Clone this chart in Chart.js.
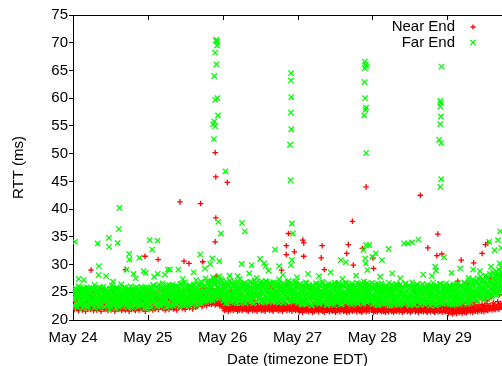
<!DOCTYPE html>
<html>
<head>
<meta charset="utf-8">
<script src="https://cdn.jsdelivr.net/npm/chart.js@4.4.0/dist/chart.umd.min.js"></script>
<style>
  html, body { margin: 0; padding: 0; background: #fff; overflow: hidden; }
  /* the plot is wider than the window: its right end is cut off, as in the original */
  #wrap { width: 540px; height: 366px; }
</style>
</head>
<body>
<div id="wrap"><canvas id="rtt" width="540" height="366"></canvas></div>
<script>
// Day labels on the x axis (hours since May 24 00:00 EDT)
const dayLabels = ['May 24', 'May 25', 'May 26', 'May 27', 'May 28', 'May 29'];
const sampleStep = 0.2; // hours between probes

// Far End RTT (ms), one list per day
const farMay24 = [
  23.8,25.1,22.6,24.4,25.7,23.1,24.9,22.3,25.4,23.6,24.2,25.9,22.9,24.7,23.3,25.2,22.1,24.0,25.6,23.5,
  24.8,22.7,25.3,23.9,24.5,22.4,25.8,23.2,24.1,25.0,22.8,24.6,23.4,25.5,22.2,24.3,25.7,23.0,24.9,23.7,
  25.2,22.5,24.4,25.9,23.3,24.0,22.9,25.4,23.8,24.7,22.3,25.1,23.5,24.2,25.6,22.6,24.8,23.1,25.3,24.0,
  22.4,25.0,23.7,24.5,25.8,22.8,24.1,23.4,25.5,22.1,24.6,23.9,25.2,22.7,24.3,25.7,23.2,24.9,22.5,25.4,
  23.6,24.2,25.9,22.9,24.7,23.0,25.1,22.3,24.4,25.6,23.5,24.0,22.6,25.3,23.8,24.8,22.2,25.0,23.3,24.5,
  25.8,22.8,24.1,23.7,25.5,22.4,24.6,23.1,25.2,24.3,22.7,25.7,23.9,24.9,22.1,25.4,23.4,24.2,25.9,23.6
];
const farMay25 = [
  24.3,22.6,25.8,23.4,24.9,22.2,25.5,23.9,24.1,26.2,22.8,25.0,23.6,24.6,22.4,25.9,23.2,24.8,26.4,23.0,
  24.4,22.5,25.6,23.7,24.0,26.0,22.9,25.2,23.5,24.7,22.3,25.7,24.2,23.1,26.3,24.9,22.7,25.3,23.8,24.5,
  25.9,22.6,24.1,26.1,23.3,25.0,22.8,24.6,25.4,23.6,24.3,22.4,26.5,23.9,25.1,22.9,24.7,25.8,23.4,24.0,
  22.7,26.2,24.4,23.1,25.6,23.8,24.9,22.5,26.0,24.2,23.5,25.3,22.8,24.6,26.4,23.2,25.0,24.1,22.6,25.7,
  23.9,26.3,24.5,23.0,25.4,24.8,22.9,26.6,23.6,25.1,24.3,23.3,26.0,24.7,23.8,25.5,27.0,23.4,24.9,26.2,
  23.7,25.8,24.1,26.8,23.5,25.2,27.3,24.6,23.9,26.5,25.0,24.4,27.1,23.8,26.0,25.6,24.2,27.4,25.3,24.8
];
const farMay26 = [
  25.2,23.4,26.5,24.1,25.8,23.0,26.9,24.6,25.4,23.7,26.2,24.9,23.3,25.6,26.7,24.3,23.8,25.1,26.4,23.5,
  24.8,26.0,23.1,25.5,24.4,26.8,23.9,25.0,24.2,26.3,23.6,25.7,24.7,23.2,26.6,25.3,24.0,26.1,23.8,25.9,
  24.5,23.4,26.4,25.2,24.1,26.9,23.7,25.6,24.8,23.0,26.2,25.0,24.3,26.7,23.5,25.4,24.6,26.0,23.9,25.8,
  24.2,26.5,23.3,25.1,24.9,26.3,23.6,25.5,24.4,27.0,23.8,25.9,24.0,26.1,23.2,25.3,24.7,26.6,23.7,25.0,
  24.5,26.8,23.4,25.7,24.1,26.2,23.9,25.2,24.8,26.4,23.1,25.6,24.3,26.0,23.6,25.4,24.9,26.7,23.5,25.1,
  24.6,26.3,23.8,25.8,24.2,26.9,23.3,25.5,24.7,26.1,23.9,25.0,24.4,26.5,23.7,25.3,24.0,26.6,23.4,25.9
];
const farMay27 = [
  24.6,23.1,25.9,24.0,26.4,23.5,25.3,22.8,24.9,26.1,23.7,25.5,24.3,22.9,26.6,24.8,23.3,25.7,24.1,26.0,
  23.0,25.2,24.5,22.7,26.3,23.9,25.0,24.7,23.4,25.8,24.2,26.5,23.2,25.4,24.0,22.9,26.2,24.6,23.6,25.1,
  24.4,26.7,23.1,25.6,24.8,23.5,25.9,22.8,24.2,26.0,23.8,25.3,24.6,23.0,26.4,24.9,23.4,25.7,24.1,22.7,
  26.1,24.5,23.6,25.2,24.0,26.6,23.3,25.5,24.7,23.9,25.8,22.9,24.3,26.3,23.7,25.0,24.4,23.2,26.5,24.8,
  23.5,25.6,24.1,26.0,23.0,25.4,24.6,22.8,26.2,23.8,25.1,24.3,23.4,25.9,24.9,26.7,23.1,25.3,24.2,23.7,
  26.4,24.5,23.3,25.7,24.0,22.9,26.1,24.7,23.6,25.5,24.4,26.6,23.2,25.0,24.8,23.9,26.3,24.1,25.6,23.5
];
const farMay28 = [
  24.2,22.8,25.6,23.7,26.2,24.5,23.1,25.3,24.0,26.5,22.7,25.0,24.7,23.4,25.9,24.1,23.0,26.3,24.8,23.6,
  25.4,22.9,24.3,26.0,23.8,25.2,24.6,22.6,25.7,23.3,24.9,26.4,23.5,25.1,24.2,22.8,25.8,24.4,23.9,26.1,
  23.2,25.5,24.0,22.7,26.3,24.6,23.6,25.0,24.8,23.1,25.9,24.3,22.9,26.5,23.7,25.3,24.1,23.4,25.6,24.7,
  22.6,26.0,24.5,23.0,25.2,23.9,26.2,24.2,22.8,25.7,24.0,23.5,26.4,24.8,23.3,25.4,24.4,22.7,25.8,23.8,
  25.1,24.6,23.2,26.1,24.3,22.9,25.5,23.6,24.9,26.3,23.1,25.0,24.1,22.6,25.9,24.7,23.4,26.0,24.5,23.0,
  25.3,23.9,26.2,24.2,22.8,25.6,24.0,23.7,26.5,24.8,23.3,25.2,24.4,22.9,25.7,23.5,26.1,24.6,23.1,25.4
];
const farMay29 = [
  24.0,22.9,25.7,23.6,26.3,24.4,23.1,25.2,24.8,22.7,26.0,23.9,25.5,24.2,23.4,26.5,24.7,23.0,25.8,24.1,
  22.8,26.2,23.7,25.0,24.5,23.3,25.9,24.3,26.6,23.5,25.3,24.0,22.9,26.1,24.8,23.8,25.6,24.6,23.2,26.4,
  24.2,25.1,23.6,26.8,24.9,23.9,25.7,24.4,27.0,23.4,25.4,24.7,26.3,23.8,25.9,24.1,27.2,24.6,25.2,23.7,
  26.5,24.9,25.6,24.3,27.4,23.9,26.0,25.1,24.5,27.1,25.8,24.2,26.7,25.3,27.6,24.7,26.2,25.0,27.9,24.4,
  26.9,25.5,28.2,24.8,26.4,27.7,25.2,28.5,26.1,27.3
];
// Far End, second reading of each interval (taken half a step later)
const farMay24b = [
  24.1,23.6,24.9,22.4,25.3,24.7,23.0,23.9,26.1,24.4,22.8,25.0,23.5,24.2,25.6,23.1,24.8,22.6,25.2,24.0,
  23.3,24.6,25.9,22.2,24.3,23.8,25.4,24.9,23.2,22.9,25.7,24.5,23.7,24.1,26.3,23.4,24.8,22.7,25.1,23.9,
  24.4,25.8,23.0,24.6,22.5,25.3,24.2,23.6,26.0,24.7,23.3,24.0,25.5,22.8,24.9,23.5,25.0,24.3,21.9,25.7,
  23.8,24.5,26.2,23.1,24.7,22.6,25.2,24.1,23.4,25.9,24.8,23.0,24.4,22.3,25.6,23.7,24.2,26.4,23.9,24.6,
  22.9,25.1,24.0,23.5,25.8,24.3,22.7,24.9,23.2,25.4,24.6,23.8,26.1,22.4,24.1,25.0,23.6,24.7,22.8,25.5,
  24.4,23.1,25.9,24.0,22.6,24.8,25.3,23.4,24.5,26.0,23.7,22.9,25.1,24.2,23.3,25.7,24.6,22.5,24.9,23.8
];
const farMay25b = [
  24.6,23.2,25.4,24.0,22.7,25.9,24.3,23.7,26.3,24.8,22.9,25.1,23.5,24.4,26.0,23.0,24.9,25.6,22.6,24.1,
  25.2,23.8,24.5,26.6,23.3,24.7,22.8,25.5,24.0,23.6,26.2,24.9,23.1,25.0,24.3,22.5,25.8,24.6,23.9,26.4,
  23.4,24.8,25.3,22.9,24.2,26.1,23.7,25.0,24.5,23.2,25.7,24.1,22.7,26.5,23.9,24.6,25.2,23.4,24.9,26.8,
  23.6,25.1,24.4,22.8,25.9,24.0,23.5,26.3,24.7,25.4,23.1,24.2,26.0,24.8,23.7,25.6,24.3,27.2,23.9,25.0,
  24.6,26.4,23.3,25.3,24.9,26.9,23.8,25.7,24.1,26.2,25.0,23.6,27.5,24.5,25.8,24.2,26.6,23.9,25.4,27.0,
  24.7,26.1,25.2,23.8,27.7,24.9,26.5,25.5,24.3,27.3,25.9,24.6,26.8,25.1,27.9,24.8,26.3,25.6,27.1,24.4
];
const farMay26b = [
  25.0,24.2,26.1,23.6,25.7,24.8,23.2,26.6,24.5,25.3,23.9,27.1,24.1,25.8,24.6,23.4,26.3,25.1,24.0,26.9,
  23.7,25.5,24.9,23.1,26.0,24.4,25.6,27.4,23.8,25.2,24.7,26.4,23.5,25.9,24.3,26.7,23.0,25.4,24.8,26.2,
  24.1,23.6,25.7,26.8,24.5,23.3,25.0,26.5,24.2,25.8,23.9,27.2,24.6,25.3,23.4,26.1,24.9,25.6,23.8,26.7,
  24.3,25.1,27.0,23.6,25.9,24.7,26.3,23.2,25.5,24.0,26.9,24.8,23.7,25.2,26.6,24.4,23.5,25.7,24.1,26.0,
  25.4,23.9,26.8,24.6,25.0,23.3,26.4,24.9,25.6,23.8,27.3,24.2,25.3,26.2,23.6,24.7,25.8,23.1,26.5,24.5,
  25.1,23.9,26.1,24.3,25.7,27.0,23.4,25.2,24.8,26.7,23.7,25.5,24.0,26.3,25.0,23.5,26.9,24.6,25.9,24.2
];
const farMay27b = [
  24.9,23.4,25.6,24.2,26.5,23.0,25.1,24.7,22.8,26.2,24.0,25.4,23.6,26.8,24.5,23.2,25.9,24.1,26.3,23.7,
  25.0,24.6,22.6,25.7,23.9,26.0,24.3,25.3,23.1,26.6,24.8,23.5,25.5,24.0,22.9,26.4,25.2,23.8,24.6,26.9,
  23.3,25.0,24.4,26.1,23.6,25.8,24.9,22.7,25.3,26.5,24.2,23.4,25.6,24.7,26.2,23.0,25.1,24.5,23.8,26.7,
  24.1,25.4,23.2,26.0,24.8,25.7,23.6,24.3,26.4,22.8,25.2,24.6,23.9,26.1,25.0,24.2,23.5,26.8,24.9,25.5,
  23.3,24.7,26.3,24.0,25.9,23.7,25.1,26.6,24.4,23.1,25.6,24.8,26.0,23.8,25.3,24.2,22.9,26.5,24.6,25.0,
  23.4,26.2,24.9,25.7,23.6,24.3,26.9,25.2,23.9,24.7,26.0,23.2,25.5,24.1,26.4,24.8,23.5,25.8,24.4,26.7
];
const farMay28b = [
  24.5,23.0,25.8,24.2,26.4,23.6,25.1,24.8,22.7,26.0,23.9,25.5,24.3,23.3,26.6,24.7,25.2,22.9,24.0,25.9,
  23.5,26.2,24.6,23.1,25.4,24.1,26.7,23.8,25.0,24.4,22.6,25.7,24.9,23.4,26.1,24.2,25.3,23.7,26.5,24.5,
  22.8,25.6,24.0,26.3,23.2,25.0,24.7,23.6,26.0,24.3,25.8,22.9,24.8,26.6,23.5,25.2,24.1,23.9,26.2,24.6,
  25.4,23.0,24.4,26.8,23.7,25.5,24.9,22.7,25.9,24.2,23.4,26.4,24.8,25.1,23.6,24.0,26.1,25.3,23.2,24.5,
  26.5,23.8,25.0,24.3,22.8,25.7,24.7,26.3,23.3,25.2,24.0,23.7,26.0,24.6,25.6,23.1,24.9,26.7,23.9,25.4,
  24.2,22.6,25.9,24.5,26.2,23.5,25.1,24.8,23.0,26.5,24.3,25.7,23.8,24.6,26.0,23.4,25.3,24.1,26.6,24.9
];
const farMay29b = [
  24.3,23.5,25.4,24.8,22.8,26.1,24.0,25.6,23.2,24.7,26.4,23.8,25.1,24.5,22.9,25.9,24.2,26.6,23.6,25.3,
  24.9,23.3,26.2,24.6,25.7,23.9,24.4,26.8,23.4,25.5,24.8,26.0,23.7,25.2,27.0,24.3,25.8,23.8,26.5,24.9,
  25.4,27.3,24.1,26.1,25.0,23.9,26.7,24.6,25.6,27.5,24.4,26.3,25.2,27.8,24.8,26.0,25.5,27.2,24.6,26.9,
  25.8,28.0,24.9,26.6,25.3,27.6,26.1,24.7,28.3,25.7,27.0,26.4,25.1,28.6,26.8,25.4,27.9,26.2,28.8,25.9,
  27.4,26.6,29.1,25.6,28.2,27.1,26.3,29.4,27.7,28.5
];
// Far End readings off the main band: [hour, ms]
const farSpikes = [
  [0.6,34.1],[1.8,27.4],[7.9,33.8],[8.3,29.7],[8.2,28.1],[10.6,27.9],[11.5,34.8],[11.6,33.2],
  [14.9,40.2],[14.7,36.4],[14.3,33.9],[18.0,31.9],[18.1,30.9],[17.2,29.1],[19.4,28.3],[21.3,31.2],
  [22.6,28.8],[23.3,28.5],[24.6,34.4],[25.4,32.7],[27.1,34.3],[27.2,28.3],[30.4,29.1],[31.1,29.1],
  [33.8,29.1],[40.8,31.8],[44.0,30.1],[44.7,31.1],[46.9,30.6],
  [46.1,70.5],[46.3,70.2],[45.8,70.4],[46.2,69.5],[45.6,68.2],[46.0,66.1],[45.3,64.0],[45.6,59.7],
  [46.3,60.0],[46.5,56.9],[45.3,55.8],[45.0,55.3],[45.6,54.9],[45.2,52.6],
  [46.6,37.7],[47.4,35.6],[48.9,46.8],[54.2,37.5],[55.1,36.0],[57.3,29.9],[60.0,31.0],[61.3,30.2],
  [61.8,29.7],[54.1,30.1],[64.8,32.7],[66.1,29.7],
  [69.9,64.5],[69.9,63.2],[70.0,60.2],[69.9,57.4],[70.0,54.4],[69.6,51.6],[69.8,45.2],[70.2,37.4],
  [70.5,35.6],[70.2,30.8],[69.9,29.9],[85.9,30.8],[87.5,30.4],
  [93.6,66.6],[93.9,66.1],[93.6,65.4],[94.0,65.7],[93.5,62.9],[93.7,60.0],[94.0,58.3],[93.8,57.9],
  [93.4,56.9],[94.0,50.1],[94.0,33.5],[95.0,33.5],[93.2,32.6],[93.7,31.1],[93.9,30.2],[96.0,31.4],
  [97.1,32.0],[99.1,30.8],[101.2,32.8],[94.4,29.0],
  [106.2,33.8],[107.4,33.8],[108.7,34.0],[110.8,34.5],
  [118.2,65.7],[117.8,59.5],[118.0,59.1],[117.8,58.5],[118.0,56.7],[117.8,55.3],[117.4,52.5],
  [118.1,51.9],[118.1,45.4],[117.8,44.0],
  [116.2,29.6],[119.0,31.3],[116.4,28.9],[124.2,29.3],[128.3,29.1],[133.5,34.1],[135.2,32.6],
  [136.3,34.4],[137.3,33.0],[134.6,27.4],[137.0,36.0],
  [3.5,27.2],[12.8,26.9],[20.1,27.5],[26.0,27.8],[29.5,28.2],[35.2,27.4],[38.7,28.6],[42.3,29.3],
  [50.2,28.0],[52.8,27.9],[56.5,28.4],[58.9,27.6],[62.7,28.9],[67.3,28.1],[71.8,27.7],[75.4,28.3],
  [78.9,27.9],[82.6,28.6],[86.4,27.4],[90.8,28.0],[98.5,27.8],[102.4,28.4],[105.0,27.5],[112.3,28.2],
  [115.1,27.9],[121.4,28.5],[126.9,27.6],[130.5,28.8],[134.1,29.6],[136.8,30.2]
];

// Near End RTT (ms), one list per day
const nearMay24 = [
  22.4,23.8,21.9,24.6,22.7,23.2,25.1,22.1,23.5,21.7,24.2,22.9,23.6,22.3,25.4,21.8,23.1,24.0,22.5,23.9,
  21.6,22.8,24.8,23.3,22.0,23.7,22.6,25.0,21.9,23.4,22.2,24.4,23.0,21.7,22.7,24.9,23.5,22.4,21.8,23.9,
  22.9,25.3,22.1,23.2,24.3,21.6,22.6,23.8,22.3,25.6,21.9,23.1,22.8,24.1,22.0,23.6,21.7,22.5,24.7,23.3,
  22.2,21.8,23.9,22.7,25.2,22.4,23.4,21.6,24.5,22.9,23.0,22.1,25.5,21.9,23.7,22.6,24.2,22.3,21.7,23.5,
  22.8,24.8,22.0,23.2,21.8,25.0,22.5,23.9,22.2,24.0,21.6,23.3,22.7,25.4,21.9,22.4,24.6,23.1,22.0,23.6,
  21.7,24.3,22.9,23.8,22.3,25.1,21.8,22.6,24.4,23.0,22.1,23.7,21.9,25.3,22.5,23.4,21.6,24.9,22.8,23.2
];
const nearMay25 = [
  22.6,24.1,21.9,23.3,22.8,24.7,22.2,23.6,21.8,25.0,22.5,23.9,22.0,24.3,23.1,22.4,24.9,21.9,23.5,22.7,
  24.0,22.3,23.2,25.3,22.1,23.8,22.6,24.5,21.8,23.0,22.9,24.2,22.4,23.7,21.9,25.1,22.7,23.4,22.2,24.6,
  23.1,22.0,23.9,24.8,22.5,23.3,21.8,24.1,22.8,23.6,22.3,25.4,22.9,23.0,24.4,22.1,23.7,22.6,24.9,23.2,
  21.9,24.0,22.7,23.5,22.4,25.2,23.1,22.2,24.3,23.8,22.6,24.7,22.0,23.4,25.0,22.8,23.9,22.3,24.5,23.3,
  22.5,24.1,23.6,22.9,25.3,23.0,24.6,22.4,23.8,24.2,22.7,25.5,23.4,24.0,22.6,23.2,24.8,23.7,25.1,22.9,
  23.5,24.4,22.8,23.9,25.6,23.1,24.2,23.6,22.7,24.9,23.3,22.9,23.8,24.5,23.0,22.6,23.5,22.8,23.2,22.5
];
const nearMay26 = [
  22.6,22.1,23.0,21.7,22.4,22.9,21.9,23.4,22.3,21.6,22.8,22.0,23.2,21.8,22.5,24.1,22.2,21.7,22.7,23.1,
  21.9,22.4,22.0,23.6,21.6,22.8,22.3,21.8,23.0,22.5,24.6,21.7,22.1,22.9,21.9,22.6,23.3,22.0,21.8,22.4,
  22.7,21.6,23.1,22.2,21.9,22.8,25.2,22.3,21.7,22.5,22.0,23.4,21.8,22.6,22.2,21.6,23.0,22.4,21.9,24.3,
  22.1,22.7,21.7,22.3,23.2,21.8,22.5,22.0,21.6,22.9,22.4,23.7,21.9,22.2,22.6,21.7,22.8,23.0,22.1,21.8,
  22.5,21.6,22.3,24.8,22.0,22.7,21.9,23.3,22.4,21.7,22.2,22.9,21.8,22.6,23.5,22.1,21.6,22.4,22.0,22.8,
  21.9,23.1,22.3,21.7,22.5,24.0,22.2,21.8,22.7,22.0,23.4,21.6,22.4,22.9,21.9,22.3,22.6,21.7,23.0,22.1
];
const nearMay27 = [
  22.3,21.8,22.7,21.5,22.1,23.0,21.9,22.5,21.4,22.8,22.2,21.7,23.3,22.0,21.6,22.4,21.9,22.9,21.5,22.6,
  22.1,24.2,21.8,22.3,21.4,22.7,22.0,21.6,23.1,22.5,21.7,22.2,21.9,22.8,21.5,22.4,25.1,21.8,22.0,22.6,
  21.6,22.9,22.3,21.4,22.1,23.4,21.9,22.5,21.7,22.2,22.8,21.5,22.0,24.5,21.8,22.4,21.6,22.7,22.1,21.9,
  22.5,21.4,23.0,22.2,21.7,22.6,21.9,22.3,21.5,22.8,22.0,21.8,23.6,22.4,21.6,22.1,22.9,21.7,22.5,21.4,
  22.2,21.9,22.7,21.5,22.3,24.0,21.8,22.6,21.6,22.0,22.8,21.7,22.4,21.9,23.2,21.5,22.1,22.6,21.8,22.3,
  21.6,22.9,22.0,21.4,22.5,21.7,23.7,22.2,21.9,22.7,21.5,22.4,21.8,22.1,22.8,21.6,23.1,22.3,22.6,22.0
];
const nearMay28 = [
  21.9,22.5,21.4,22.8,22.1,21.6,23.0,22.3,21.5,22.6,21.8,22.2,23.3,21.7,22.4,21.5,22.9,22.0,21.6,22.7,
  22.2,21.4,23.1,22.5,21.8,22.0,21.5,22.6,24.4,21.9,22.3,21.6,22.8,22.1,21.4,22.5,21.7,23.2,22.0,21.6,
  22.4,21.9,22.7,21.5,22.2,25.0,21.8,22.6,21.4,22.3,22.9,21.6,22.1,21.8,22.5,23.5,21.5,22.0,22.7,21.7,
  22.3,21.4,22.8,22.1,21.6,22.4,24.1,21.9,22.6,21.5,22.2,23.0,21.7,22.5,21.4,22.0,22.8,21.8,22.3,21.6,
  22.7,22.1,21.5,23.4,21.9,22.4,21.6,22.6,21.4,22.2,22.9,21.8,22.0,21.5,22.5,24.6,21.7,22.3,21.6,22.8,
  21.4,22.1,23.1,21.9,22.4,21.5,22.7,22.0,21.6,22.3,21.8,22.6,21.4,23.3,22.2,21.7,22.5,21.5,22.9,22.0
];
const nearMay29 = [
  21.6,22.3,21.2,22.0,21.5,22.6,21.3,21.9,22.4,21.1,21.7,22.2,21.4,22.8,21.6,21.2,22.0,21.8,22.5,21.3,
  21.9,22.7,21.5,22.1,21.2,22.4,21.7,23.0,21.4,22.2,21.9,21.3,22.6,21.6,22.0,21.8,23.4,21.5,22.3,21.7,
  22.9,21.4,22.1,21.8,22.5,21.6,23.2,21.9,22.4,21.5,22.0,22.7,21.7,24.0,22.2,21.6,22.8,21.9,22.3,21.5,
  22.6,23.5,21.8,22.1,22.9,21.7,22.4,23.8,21.9,22.6,22.2,24.3,21.8,22.5,23.1,22.0,22.7,21.9,25.0,22.4,
  22.1,23.3,22.8,21.9,24.6,22.5,23.0,22.3,25.4,22.7
];
// Near End readings off the main band: [hour, ms]
const nearSpikes = [
  [5.8,29.0],[16.8,29.1],[23.1,31.5],[27.3,30.9],[34.3,41.3],[40.9,41.0],[35.6,30.6],[37.2,30.2],
  [41.6,30.5],[45.6,50.2],[45.8,45.8],[49.5,44.8],[45.8,38.4],[45.6,34.1],[45.9,27.9],[46.0,26.6],
  [46.1,25.4],[66.9,29.0],[68.4,33.4],[68.4,31.8],[69.1,35.6],[71.0,32.3],[73.7,34.4],[74.0,33.9],
  [74.0,31.5],[79.9,33.4],[79.6,31.2],[80.6,29.1],[89.6,37.8],[88.3,33.6],[87.8,32.0],[89.9,29.9],
  [92.8,32.9],[94.0,44.0],[96.2,31.2],[96.4,29.3],[93.5,23.5],[93.6,24.4],[93.5,25.2],[93.7,26.0],
  [93.6,26.8],[111.4,42.5],[113.8,33.0],[117.0,35.5],[116.7,31.6],[118.3,31.9],[124.5,30.8],
  [123.4,27.0],[128.5,30.3],[131.2,32.0],[132.3,33.6],[133.0,33.9],
  [50.8,25.4],[55.3,26.1],[63.4,25.7],[68.9,26.4],[76.2,25.9],[84.7,26.6],[91.5,25.3],[99.8,25.6],
  [104.6,26.3],[109.9,25.1],[114.2,26.0],[126.2,26.5],[133.8,27.3],[135.9,28.1],[137.2,27.8]
];

// turn the day lists + spikes into {x: hour, y: ms} points
function buildSeries(dayLists, spikes) {
  const pts = [];
  dayLists.forEach(([days, offset]) => {
    days.forEach((vals, d) => {
      vals.forEach((v, i) => pts.push({ x: d * 24 + offset + i * sampleStep, y: v }));
    });
  });
  spikes.forEach(([h, v]) => pts.push({ x: h, y: v }));
  return pts;
}

const nearEnd = buildSeries([
  [[nearMay24, nearMay25, nearMay26, nearMay27, nearMay28, nearMay29], 0]
], nearSpikes);
const farEnd = buildSeries([
  [[farMay24, farMay25, farMay26, farMay27, farMay28, farMay29], 0],
  [[farMay24b, farMay25b, farMay26b, farMay27b, farMay28b, farMay29b], sampleStep / 2]
], farSpikes);

Chart.defaults.font.family = '"Liberation Sans", Arial, sans-serif';
Chart.defaults.font.size = 15;
Chart.defaults.color = '#000';

// gnuplot-like frame: top/right border, inward x tics, key in the top right corner
const gnuFrame = {
    id: 'gnuFrame',
    afterDraw(chart) {
        const { ctx, chartArea: a, scales: { x } } = chart;
        ctx.save();
        ctx.strokeStyle = '#000';
        ctx.lineWidth = 1;
        ctx.beginPath();
        ctx.moveTo(a.left, a.top + 0.5);
        ctx.lineTo(a.right + 0.5, a.top + 0.5);
        ctx.lineTo(a.right + 0.5, a.bottom);
        x.ticks.forEach(t => {
            const px = Math.round(x.getPixelForValue(t.value)) + 0.5;
            ctx.moveTo(px, a.bottom);
            ctx.lineTo(px, a.bottom - 5);
            ctx.moveTo(px, a.top);
            ctx.lineTo(px, a.top + 5);
        });
        ctx.stroke();

        // key
        ctx.font = '15px "Liberation Sans", Arial, sans-serif';
        ctx.textAlign = 'right';
        ctx.textBaseline = 'middle';
        chart.data.datasets.forEach((ds, i) => {
            const y = 27 + i * 15.5;
            ctx.fillStyle = '#000';
            ctx.fillText(ds.label, 455, y);
            ctx.strokeStyle = ds.borderColor;
            ctx.lineWidth = 1.3;
            ctx.beginPath();
            if (ds.pointStyle === 'cross') {
                ctx.moveTo(470.5, y); ctx.lineTo(475.5, y);
                ctx.moveTo(473, y - 2.5); ctx.lineTo(473, y + 2.5);
            } else {
                ctx.moveTo(470.5, y - 2.5); ctx.lineTo(475.5, y + 2.5);
                ctx.moveTo(470.5, y + 2.5); ctx.lineTo(475.5, y - 2.5);
            }
            ctx.stroke();
        });
        ctx.restore();
    }
};

new Chart(document.getElementById('rtt'), {
    type: 'scatter',
    data: {
        datasets: [{
            label: 'Near End',
            data: nearEnd,
            pointStyle: 'cross',
            pointRadius: 2.8,
            borderColor: '#ff0000',
            backgroundColor: '#ff0000',
            borderWidth: 1.3,
            order: 1
        }, {
            label: 'Far End',
            data: farEnd,
            pointStyle: 'crossRot',
            pointRadius: 3.8,
            borderColor: '#00ff00',
            backgroundColor: '#00ff00',
            borderWidth: 1.3,
            order: 0
        }]
    },
    options: {
        responsive: false,
        animation: false,
        events: [],
        layout: { padding: { top: 15, right: 18, left: 0, bottom: 0 } },
        plugins: { legend: { display: false }, tooltip: { enabled: false } },
        scales: {
            x: {
                type: 'linear',
                min: 0,
                max: 144,
                afterFit: s => { s.height = 46; },
                ticks: {
                    stepSize: 24,
                    autoSkip: false,
                    maxRotation: 0,
                    padding: 1,
                    callback: v => dayLabels[v / 24] || ''
                },
                grid: { display: false },
                border: { color: '#000', width: 1 },
                title: {
                    display: true,
                    text: 'Date (timezone EDT)',
                    font: { size: 15, lineHeight: 1 },
                    padding: { top: 0, bottom: -1 }
                }
            },
            y: {
                min: 20,
                max: 75,
                afterFit: s => { s.width = 73; },
                ticks: { stepSize: 5, padding: 1 },
                grid: { drawOnChartArea: false, tickLength: 4, color: '#000' },
                border: { color: '#000', width: 1 },
                title: {
                    display: true,
                    text: 'RTT (ms)',
                    font: { size: 15, lineHeight: 1 },
                    padding: { top: 11, bottom: 0 }
                }
            }
        }
    },
    plugins: [gnuFrame]
});
</script>
</body>
</html>
